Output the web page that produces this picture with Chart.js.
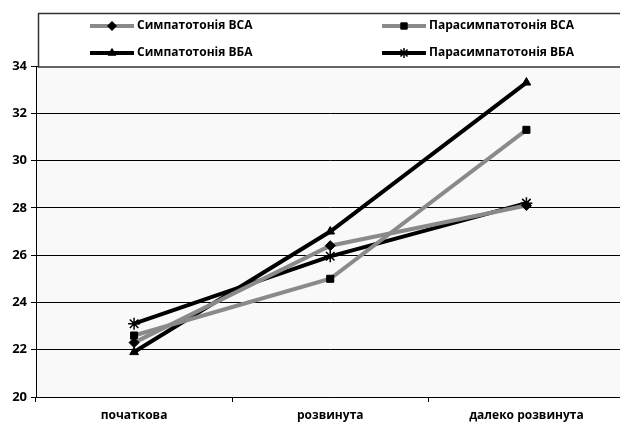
<!DOCTYPE html>
<html>
<head>
<meta charset="utf-8">
<script src="https://cdn.jsdelivr.net/npm/chart.js@4"></script>
<style>
  html, body { margin: 0; padding: 0; background: #fff; overflow: hidden; }
</style>
</head>
<body>
<canvas id="chart" width="632" height="427"></canvas>
<script>
const categories = ["початкова", "розвинута", "далеко розвинута"];
const seriesNames = ["Симпатотонія ВСА", "Парасимпатотонія ВСА", "Симпатотонія ВБА", "Парасимпатотонія ВБА"];
const sympVSA = [22.3, 26.4, 28.1];
const parasympVSA = [22.6, 25.0, 31.3];
const sympVBA = [21.9, 27.0, 33.3];
const parasympVBA = [23.1, 25.95, 28.2];
const yTicks = [20, 22, 24, 26, 28, 30, 32, 34];

const GRAY = "#8a8a8a";
const FONT = "'Open Sans', 'Noto Sans', sans-serif";

function makeSet(label, data, color, style) {
    return {
        label: label,
        data: data,
        borderColor: color,
        borderWidth: 4,
        pointStyle: style,
        pointRadius: style === "star" ? 6 : 5,
        pointBackgroundColor: "#000",
        pointBorderColor: "#000",
        pointBorderWidth: style === "star" ? 1.5 : 1,
        tension: 0
    };
}

// plot background
const bgPlugin = {
    id: "bg",
    beforeDraw(chart) {
        const a = chart.chartArea;
        const ctx = chart.ctx;
        ctx.save();
        ctx.fillStyle = "#f9f9f9";
        ctx.fillRect(a.left, a.top, a.right - a.left, a.bottom - a.top);
        ctx.restore();
    }
};

// legend box drawn by hand (two columns)
const legendBox = {
    id: "legendBox",
    afterDraw(chart) {
        const ctx = chart.ctx;
        ctx.save();
        ctx.fillStyle = "#fff";
        ctx.fillRect(38, 13, 600, 54);
        ctx.strokeStyle = "#333";
        ctx.lineWidth = 1.5;
        ctx.strokeRect(38.5, 13.5, 600, 53.5);
        const spots = [[90, 26], [382, 26], [90, 53], [382, 53]];
        chart.data.datasets.forEach((ds, i) => {
            const x = spots[i][0], y = spots[i][1];
            ctx.strokeStyle = ds.borderColor;
            ctx.lineWidth = 4;
            ctx.beginPath();
            ctx.moveTo(x, y);
            ctx.lineTo(x + 44, y);
            ctx.stroke();
            ctx.fillStyle = "#000";
            ctx.strokeStyle = "#000";
            ctx.lineWidth = ds.pointBorderWidth;
            Chart.helpers.drawPoint(ctx, {
                pointStyle: ds.pointStyle,
                radius: ds.pointStyle === "star" ? 5 : 4.5,
                borderWidth: ds.pointBorderWidth,
                rotation: 0
            }, x + 22, y);
            ctx.fillStyle = "#000";
            ctx.font = "bold 12px " + FONT;
            ctx.textBaseline = "middle";
            ctx.fillText(ds.label, x + 47, y);
        });
        ctx.restore();
    }
};

new Chart(document.getElementById("chart"), {
    type: "line",
    data: {
        labels: categories,
        datasets: [
            makeSet(seriesNames[0], sympVSA, GRAY, "rectRot"),
            makeSet(seriesNames[1], parasympVSA, GRAY, "rect"),
            makeSet(seriesNames[2], sympVBA, "#000", "triangle"),
            makeSet(seriesNames[3], parasympVBA, "#000", "star")
        ]
    },
    options: {
        responsive: false,
        animation: false,
        layout: { padding: { top: 66, right: 0, left: 0, bottom: 0 } },
        plugins: {
            legend: { display: false },
            tooltip: { enabled: false }
        },
        scales: {
            x: {
                offset: true,
                grid: { drawOnChartArea: false, offset: true, tickLength: 5, color: "#000" },
                border: { color: "#000", width: 1 },
                ticks: { color: "#000", font: { family: FONT, size: 12, weight: "bold" }, padding: 6, maxRotation: 0 },
                afterFit(scale) { scale.height = 30; }
            },
            y: {
                min: 20,
                max: 34,
                afterBuildTicks(scale) { scale.ticks = yTicks.map(v => ({ value: v })); },
                grid: { color: "#000", lineWidth: 1, tickLength: 5 },
                border: { color: "#000", width: 1 },
                ticks: { color: "#000", font: { family: FONT, size: 13, weight: "bold" }, padding: 4 },
                afterFit(scale) { scale.width = 36; }
            }
        }
    },
    plugins: [bgPlugin, legendBox]
});
</script>
</body>
</html>
